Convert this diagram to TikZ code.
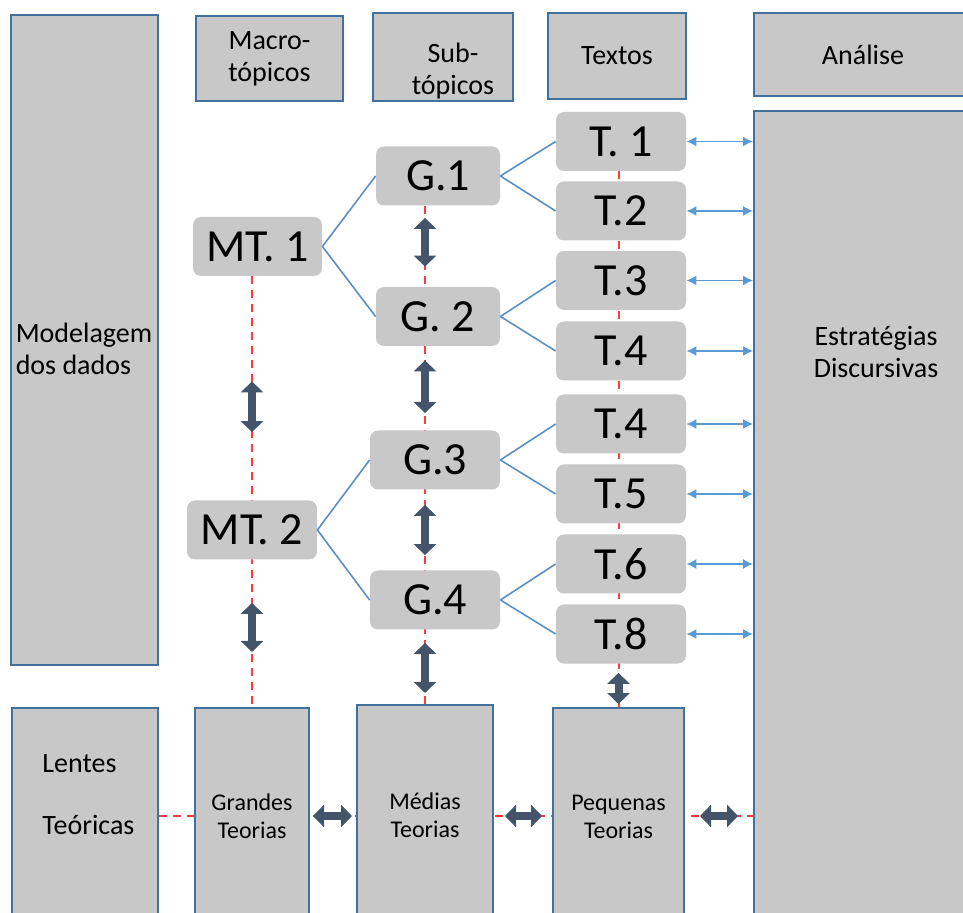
\documentclass[tikz,border=0pt]{standalone}
\usepackage{fontspec}
\setmainfont{Carlito}
\usetikzlibrary{arrows.meta,backgrounds}
\definecolor{boxgray}{RGB}{200,200,200}
\definecolor{boxblue}{RGB}{65,113,156}
\definecolor{linkblue}{RGB}{91,143,196}
\definecolor{arrowblue}{RGB}{91,155,213}
\definecolor{arrowgray}{RGB}{68,84,106}
\definecolor{dashred}{RGB}{255,60,60}
\tikzset{
 panel/.style={draw=boxblue, fill=boxgray, line width=1pt, inner sep=0pt, align=center, font=\fontsize{14}{16}\selectfont},
 theory/.style={font=\fontsize{12}{14}\selectfont},
 item/.style={fill=boxgray, rounded corners=4pt, minimum width=65pt, minimum height=29.5pt, inner sep=0pt, font=\fontsize{23}{26}\selectfont},
 txt/.style={align=center, font=\fontsize{14}{16}\selectfont},
 branch/.style={draw=linkblue, line width=0.8pt},
 feed/.style={draw=arrowblue, line width=0.75pt, {Latex[length=5pt,width=5pt]}-{Latex[length=5pt,width=5pt]}},
 reddash/.style={draw=dashred, line width=1pt, dash pattern=on 4pt off 3pt},
 bigarrow/.style={draw=arrowgray, line width=4pt, {Triangle[width=11pt,length=5.5pt]}-{Triangle[width=11pt,length=5.5pt]}}
}
\newcommand{\panelbox}[6][]{%
 \node[panel,#1,minimum width=#4,minimum height=#5] (#2) at (#3) {#6};%
}
\begin{document}
\begin{tikzpicture}[x=0.5pt,y=-0.5pt]
 \useasboundingbox (0,0) rectangle (963,913);
 \clip (0,0) rectangle (963,913);
 % top row
 \panelbox{modelagem}{84.5,340}{73.5pt}{325pt}{}
 \node[txt, align=left] (modtxt) at (84,349) {Modelagem\\dos dados};
 \panelbox{macro}{269.5,58.5}{73.5pt}{42.5pt}{Macro-\\tópicos}
 \panelbox{sub}{443,57}{70pt}{44pt}{}
 \node[txt] (subtxt) at (453,71) {Sub-\\tópicos};
 \panelbox{textos}{617,56}{69pt}{43pt}{Textos}
 \panelbox{analise}{863,54.5}{109pt}{41.5pt}{Análise}
 \panelbox{estrategias}{863,518}{109pt}{407pt}{}
 \node[txt] (esttxt) at (876,352) {Estratégias\\Discursivas};
 % bottom row
 \panelbox{lentes}{85,816.5}{73pt}{108.5pt}{}
 \node[txt, align=left, anchor=west, inner sep=0pt] (lentestxt) at (42,795) {Lentes\\[15pt]Teóricas};
 \panelbox[theory]{grandes}{252,816.5}{57pt}{108.5pt}{Grandes\\Teorias}
 \panelbox[theory]{medias}{425,815}{68pt}{110pt}{Médias\\Teorias}
 \panelbox[theory]{pequenas}{618.5,816.5}{65.5pt}{108.5pt}{Pequenas\\Teorias}
 % topics
 \node[item, minimum width=64.5pt] (mt1) at (257.5,246.5) {MT. 1};
 \node[item] (mt2) at (252,530) {MT. 2};
 \node[item, minimum width=62pt] (g1) at (438,176) {G.1};
 \node[item, minimum width=62pt] (g2) at (438,316.5) {G. 2};
 \node[item] (g3) at (435,460) {G.3};
 \node[item] (g4) at (435,600) {G.4};
 \foreach \name/\y/\lab in {t1/141.5/T. 1, t2/211/T.2, t3/280.5/T.3, t4/351/T.4,
   t5/424/T.4, t6/494/T.5, t7/564/T.6, t8/634/T.8}
   \node[item] (\name) at (621,\y) {\lab};
 \foreach \a/\b in {mt1/g1, mt1/g2, mt2/g3, mt2/g4, g1/t1, g1/t2, g2/t3, g2/t4,
   g3/t5, g3/t6, g4/t7, g4/t8}
   \draw[branch] (\a.east) -- (\b.west);
 \foreach \t in {t1,t2,t3,t4,t5,t6,t7,t8}
   \draw[feed] (\t.east) -- (\t.east -| estrategias.west);
 % red guide lines
 \begin{scope}[on background layer]
  \draw[reddash] (grandes.north |- mt1.south) -- (grandes.north);
  \draw[reddash] (medias.north |- g1.south) -- (medias.north);
  \draw[reddash] (pequenas.north |- t1.south) -- (pequenas.north);
  \draw[reddash] (lentes.east |- 0,816) -- (estrategias.west |- 0,816);
 \end{scope}
 % thick arrows
 \draw[bigarrow, shorten <=52.5pt, shorten >=34pt] (mt1.south -| grandes.north) -- (mt2.north -| grandes.north);
 \draw[bigarrow, shorten <=21.5pt, shorten >=27.5pt] (mt2.south -| grandes.north) -- (grandes.north);
 \draw[bigarrow, shorten <=6pt, shorten >=10pt] (g1.south -| medias.north) -- (g2.north -| medias.north);
 \draw[bigarrow, shorten <=7pt, shorten >=8.5pt] (g2.south -| medias.north) -- (g3.north -| medias.north);
 \draw[bigarrow, shorten <=7.5pt, shorten >=7.5pt] (g3.south -| medias.north) -- (g4.north -| medias.north);
 \draw[bigarrow, shorten <=6.5pt, shorten >=5.5pt] (g4.south -| medias.north) -- (medias.north);
 \draw[bigarrow, shorten <=4.5pt, shorten >=1.5pt] (t8.south -| pequenas.north) -- (pequenas.north);
 \draw[bigarrow, shorten <=1.5pt, shorten >=2pt] (grandes.east |- 0,816) -- (medias.west |- 0,816);
 \draw[bigarrow, shorten <=5.5pt, shorten >=5pt] (medias.east |- 0,816) -- (pequenas.west |- 0,816);
 \draw[bigarrow, shorten <=7.5pt, shorten >=7.5pt] (pequenas.east |- 0,816) -- (estrategias.west |- 0,816);
\end{tikzpicture}
\end{document}
